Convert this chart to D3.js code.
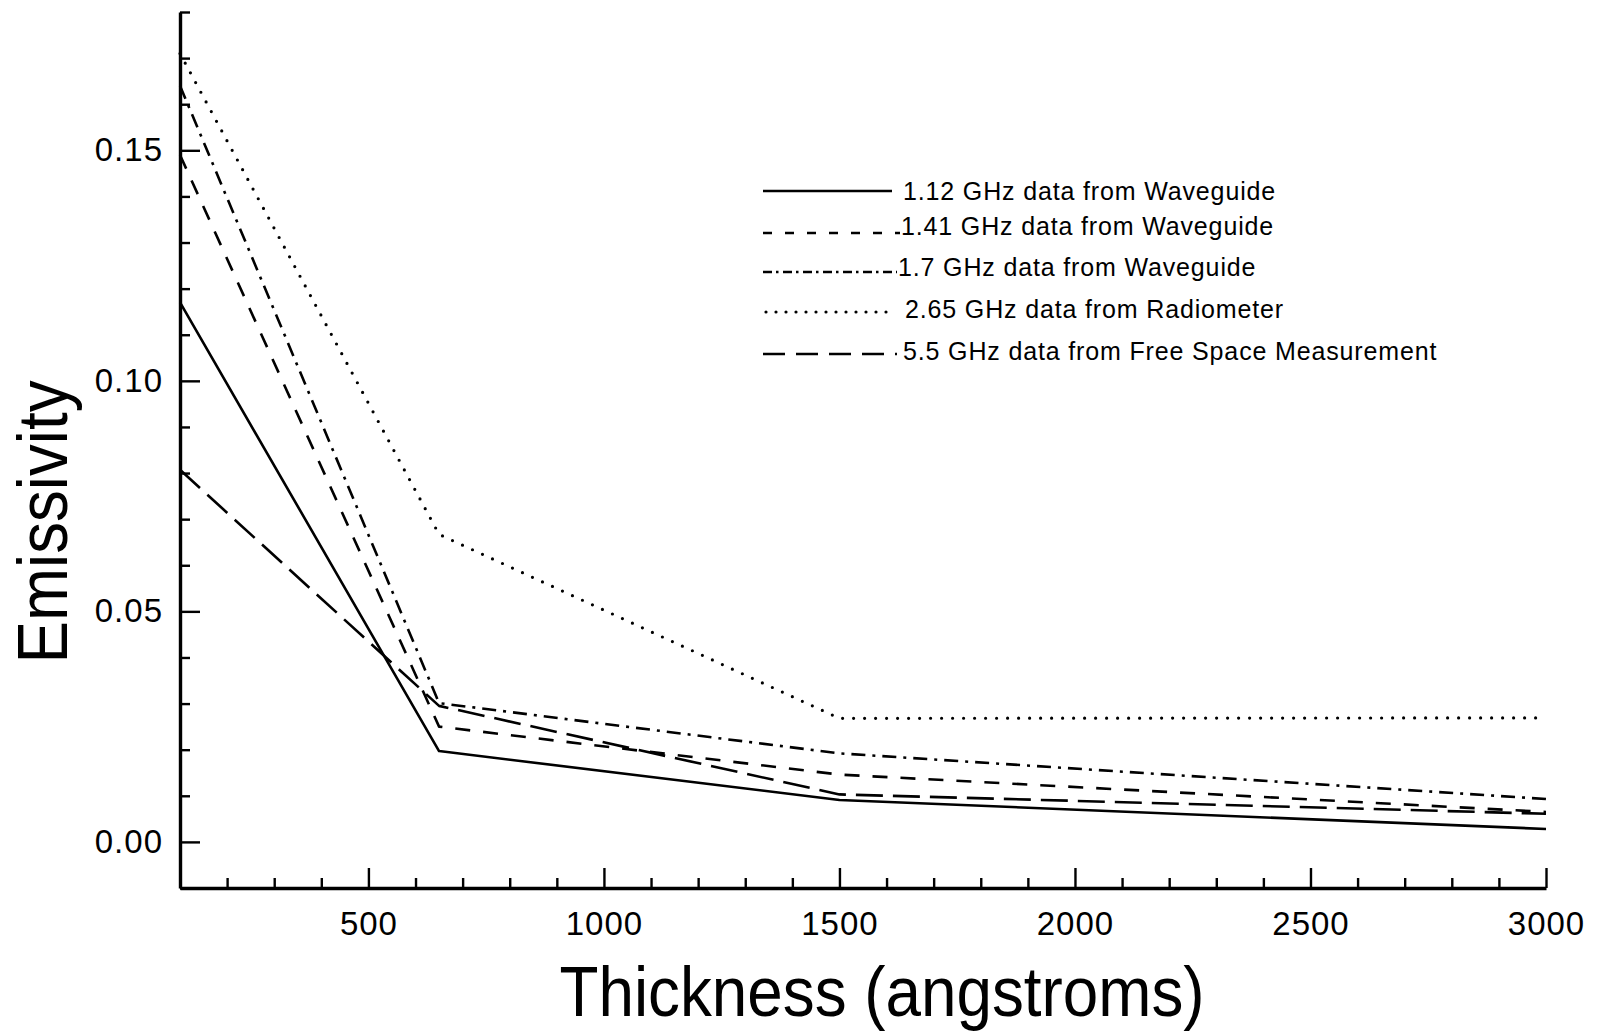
<!DOCTYPE html>
<html>
<head>
<meta charset="utf-8">
<script src="https://cdn.jsdelivr.net/npm/d3@7"></script>
<style>
  html, body { margin: 0; padding: 0; background: #fff; }
  svg { display: block; font-family: "Liberation Sans", Arial, Helvetica, sans-serif; }
</style>
</head>
<body>
<svg id="chart"></svg>
<script>
// data
const thickness = [100, 650, 1500, 3000];
const emis112 = [0.117, 0.0197, 0.0091, 0.0028];
const emis141 = [0.149, 0.0250, 0.0146, 0.0065];
const emis170 = [0.164, 0.0301, 0.0192, 0.0093];
const emis265 = [0.171, 0.0667, 0.0268, 0.0269];
const emis550 = [0.0807, 0.0295, 0.0103, 0.0061];

const seriesNames = [
  "1.12 GHz data from Waveguide",
  "1.41 GHz data from Waveguide",
  "1.7 GHz data from Waveguide",
  "2.65 GHz data from Radiometer",
  "5.5 GHz data from Free Space Measurement"
];

const xTicks = [500, 1000, 1500, 2000, 2500, 3000];
const xMinorTicks = d3.range(200, 3000, 100).filter(v => v % 500 !== 0);
const yTicks = [0, 0.05, 0.10, 0.15];
const yMinorTicks = [-0.01, 0.01, 0.02, 0.03, 0.04, 0.06, 0.07, 0.08, 0.09,
  0.11, 0.12, 0.13, 0.14, 0.16, 0.17, 0.18];

// layout
const cfg = {
  width: 1599,
  height: 1035,
  left: 180,
  right: 1546,
  top: 12,
  bottom: 888
};

// line styles per series (same order as seriesNames)
const styles = [
  { dash: null, legendDash: null, width: 2.6, cap: "butt" },
  { dash: "15,13", legendDash: "9,13", width: 2.6, cap: "butt" },
  { dash: "14,7,3,7", legendDash: "9,4,2.5,4.5", width: 2.6, cap: "butt" },
  { dash: "0,11", legendDash: "0,10", width: 3.2, cap: "round" },
  { dash: "27,10", legendDash: "22,11", width: 2.6, cap: "butt" }
];

// legend rows: where the sample line sits and where the text starts
const legendRows = [
  { y: 191, x1: 763, x2: 892, tx: 903, ty: 200 },
  { y: 233, x1: 763, x2: 900, tx: 901, ty: 235 },
  { y: 272, x1: 763, x2: 897, tx: 898, ty: 276 },
  { y: 312, x1: 766, x2: 888, tx: 905, ty: 318 },
  { y: 354, x1: 763, x2: 897, tx: 903, ty: 360 }
];

const svg = d3.select("#chart")
  .attr("width", cfg.width)
  .attr("height", cfg.height);

const x = d3.scaleLinear().domain([100, 3000]).range([cfg.left, cfg.right]);
const y = d3.scaleLinear().domain([-0.01, 0.18]).range([cfg.bottom, cfg.top]);

// y axis (ticks point into the plot)
svg.append("g")
  .attr("transform", `translate(${cfg.left},0)`)
  .call(d3.axisLeft(y).tickValues(yMinorTicks).tickSize(-10).tickSizeOuter(0).tickFormat(""))
  .call(g => g.select(".domain").remove());

svg.append("g")
  .attr("transform", `translate(${cfg.left},0)`)
  .call(d3.axisLeft(y).tickValues(yTicks).tickSize(-20).tickSizeOuter(0)
    .tickPadding(17).tickFormat(d3.format(".2f")));

// x axis
svg.append("g")
  .attr("transform", `translate(0,${cfg.bottom})`)
  .call(d3.axisBottom(x).tickValues(xMinorTicks).tickSize(-10).tickSizeOuter(0).tickFormat(""))
  .call(g => g.select(".domain").remove());

svg.append("g")
  .attr("transform", `translate(0,${cfg.bottom})`)
  .call(d3.axisBottom(x).tickValues(xTicks).tickSize(-20).tickSizeOuter(0)
    .tickPadding(24).tickFormat(d3.format("d")));

svg.selectAll(".tick line").attr("stroke", "#000").attr("stroke-width", 2.4);
svg.selectAll(".domain").attr("stroke", "#000").attr("stroke-width", 3.4);
svg.selectAll(".tick text")
  .attr("fill", "#000")
  .style("font-size", "33px")
  .style("letter-spacing", "1px");

// axis titles
svg.append("text")
  .attr("x", 882)
  .attr("y", 1016)
  .attr("text-anchor", "middle")
  .attr("textLength", 645)
  .attr("lengthAdjust", "spacingAndGlyphs")
  .style("font-size", "71px")
  .text("Thickness (angstroms)");

svg.append("text")
  .attr("transform", "translate(67,522) rotate(-90)")
  .attr("text-anchor", "middle")
  .attr("textLength", 283)
  .attr("lengthAdjust", "spacingAndGlyphs")
  .style("font-size", "71px")
  .text("Emissivity");

// data lines
const allSeries = [emis112, emis141, emis170, emis265, emis550];
const line = d3.line()
  .x((d, i) => x(thickness[i]))
  .y(d => y(d));

svg.append("g")
  .selectAll("path")
  .data(allSeries)
  .join("path")
  .attr("d", d => line(d))
  .attr("fill", "none")
  .attr("stroke", "#000")
  .attr("stroke-width", (d, i) => styles[i].width)
  .attr("stroke-linecap", (d, i) => styles[i].cap)
  .attr("stroke-linejoin", "round")
  .attr("stroke-dasharray", (d, i) => styles[i].dash);

// legend
const legend = svg.append("g");
legend.selectAll("line")
  .data(legendRows)
  .join("line")
  .attr("x1", d => d.x1)
  .attr("x2", d => d.x2)
  .attr("y1", d => d.y)
  .attr("y2", d => d.y)
  .attr("stroke", "#000")
  .attr("stroke-width", (d, i) => styles[i].width)
  .attr("stroke-linecap", (d, i) => styles[i].cap)
  .attr("stroke-dasharray", (d, i) => styles[i].legendDash);

legend.selectAll("text")
  .data(legendRows)
  .join("text")
  .attr("x", d => d.tx)
  .attr("y", d => d.ty)
  .style("font-size", "25px")
  .style("letter-spacing", "0.85px")
  .text((d, i) => seriesNames[i]);
</script>
</body>
</html>
